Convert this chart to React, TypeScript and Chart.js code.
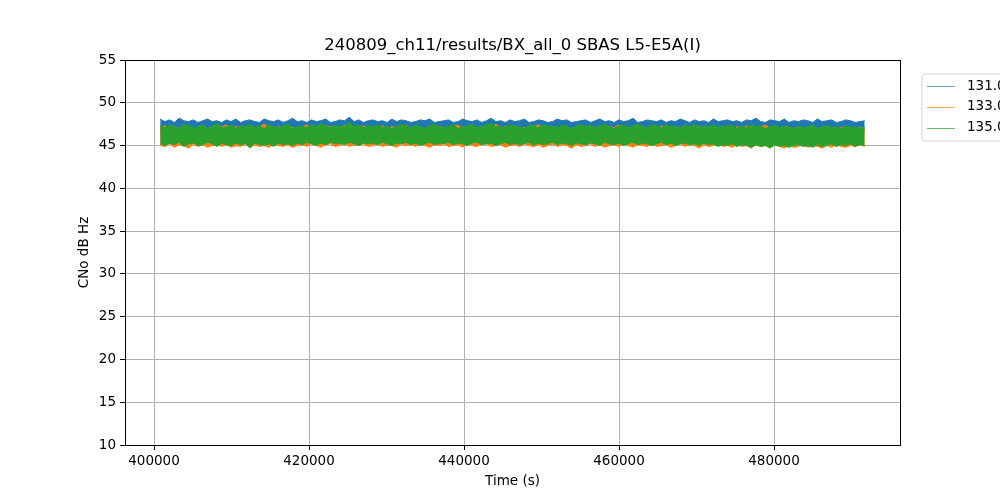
import React, { useEffect, useRef } from "react";
import { Chart, registerables } from "chart.js";

Chart.register(...registerables);

const TITLE = "240809_ch11/results/BX_all_0 SBAS L5-E5A(I)";
const X_LABEL = "Time (s)";
const Y_LABEL = "CNo dB Hz";
const SERIES_NAMES = ["131.0", "133.0", "135.0"];
const COLORS = ["#1f77b4", "#ff7f0e", "#2ca02c"];
const X_TICKS = [400000, 420000, 440000, 460000, 480000];
const Y_TICKS = [10, 15, 20, 25, 30, 35, 40, 45, 50, 55];
const X_MIN = 396258;
const X_MAX = 496258;
const T_START = 400800;
const T_END = 491700;

const S131_HI = [
  48.1,47.8,48.0,47.7,48.2,47.9,47.8,48.0,47.7,47.9,48.1,47.8,47.9,47.7,48.0,
  47.8,48.1,47.7,47.9,48.0,47.8,47.7,48.1,47.9,47.8,48.0,47.7,47.9,48.2,47.8,
  47.9,47.7,48.0,47.8,47.9,48.1,47.7,47.8,48.0,47.9,48.3,47.8,48.0,47.7,47.9,
  48.0,47.8,47.9,47.7,48.1,47.8,48.0,47.9,47.7,47.8,48.0,47.9,48.1,47.7,47.8,
  47.9,48.0,47.7,47.8,48.1,47.9,47.8,48.0,47.7,47.9,48.2,47.8,47.9,47.7,48.0,
  47.8,47.9,48.1,47.7,47.8,48.0,47.9,47.7,47.8,48.1,47.9,48.0,47.7,47.8,47.9,
  48.0,47.7,47.9,48.1,47.8,47.9,47.7,48.0,47.8,47.9,48.2,47.7,47.8,48.0,47.9,
  47.8,48.0,47.7,47.9,47.8,48.1,47.9,47.7,48.0,47.8,47.9,47.7,48.1,47.8,47.9,
  48.0,47.8,47.9,47.7,48.0,47.9,48.2,47.8,47.7,48.0,47.9,47.8,48.1,47.7,47.9,
  47.8,48.0,47.9,47.7,48.1,47.8,47.9,48.0,47.7,47.8,48.0,47.9,47.7,47.8,47.9,
];
const S131_LO = [
  46.6,46.4,46.7,46.5,46.8,46.4,46.6,46.5,46.7,46.4,46.6,46.8,46.5,46.4,46.7,
  46.5,46.7,46.4,46.6,46.8,46.5,46.4,46.6,46.7,46.5,46.8,46.4,46.6,46.5,46.7,
  46.4,46.6,46.8,46.5,46.7,46.4,46.6,46.5,46.8,46.6,46.4,46.7,46.5,46.6,46.4,
  46.7,46.5,46.6,46.8,46.4,46.6,46.5,46.7,46.4,46.8,46.6,46.5,46.7,46.4,46.6,
  46.5,46.8,46.4,46.6,46.7,46.5,46.4,46.6,46.8,46.5,46.7,46.4,46.6,46.5,46.7,
  46.6,46.4,46.7,46.5,46.6,46.8,46.4,46.5,46.7,46.6,46.4,46.8,46.5,46.6,46.7,
  46.4,46.7,46.5,46.6,46.8,46.4,46.6,46.7,46.5,46.4,46.6,46.8,46.5,46.7,46.4,
  46.6,46.5,46.8,46.4,46.7,46.6,46.5,46.4,46.7,46.6,46.8,46.5,46.4,46.6,46.7,
  46.5,46.7,46.4,46.6,46.5,46.8,46.6,46.4,46.7,46.5,46.6,46.4,46.8,46.5,46.6,
  46.7,46.4,46.6,46.5,46.8,46.4,46.7,46.6,46.5,46.4,46.6,46.7,46.5,46.4,46.6,
];
const S133_HI = [
  47.1,47.3,46.9,47.2,47.0,47.4,47.1,46.9,47.2,47.3,47.0,47.1,46.9,47.2,47.4,
  47.0,47.2,47.1,46.9,47.3,47.0,47.2,47.5,47.1,46.9,47.2,47.0,47.3,47.1,46.9,
  47.2,47.4,47.0,47.1,46.9,47.3,47.2,47.0,47.1,47.4,46.9,47.2,47.0,47.3,47.1,
  46.9,47.1,47.3,47.0,47.2,47.1,46.9,47.4,47.0,47.2,47.1,46.9,47.3,47.0,47.2,
  47.1,47.0,47.2,47.4,46.9,47.1,47.3,47.0,47.2,46.9,47.1,47.5,47.0,47.2,47.1,
  47.3,46.9,47.1,47.0,47.2,47.4,47.1,46.9,47.2,47.0,47.3,47.1,46.9,47.2,47.0,
  47.2,47.1,46.9,47.3,47.0,47.2,47.1,47.4,46.9,47.1,47.0,47.3,47.2,46.9,47.1,
  47.0,47.3,47.1,46.9,47.2,47.0,47.4,47.1,47.0,47.2,46.9,47.1,47.3,47.0,47.2,
  47.1,46.9,47.2,47.0,47.3,47.1,46.9,47.2,47.4,47.0,47.1,46.9,47.2,47.1,47.0,
  47.2,47.0,47.1,47.3,46.9,47.1,47.2,47.0,46.9,47.1,47.2,47.0,46.9,47.1,47.0,
];
const S133_LO = [
  45.0,44.9,45.2,44.8,45.1,45.0,44.7,45.2,44.9,45.1,44.8,45.0,45.2,44.9,45.1,
  44.8,45.0,44.9,45.2,44.7,45.1,44.9,45.0,44.8,45.2,45.0,44.9,45.1,44.8,45.0,
  45.1,44.9,45.2,45.0,44.8,45.1,45.2,44.9,45.0,45.3,44.9,45.1,45.0,45.2,44.9,
  45.0,45.2,44.9,45.1,45.0,44.8,45.2,45.0,45.1,44.9,45.2,45.0,44.8,45.1,45.0,
  45.2,44.9,45.0,45.1,44.8,45.2,45.0,44.9,45.1,45.2,44.9,45.0,45.1,44.8,45.0,
  45.1,44.9,45.2,45.0,44.9,45.1,44.8,45.0,45.2,44.9,45.1,45.0,44.7,45.1,44.9,
  45.0,45.2,44.9,45.1,44.8,45.0,45.1,44.9,45.2,45.0,44.8,45.1,45.0,44.9,45.2,
  44.9,45.0,45.1,44.8,45.0,45.2,44.9,45.1,45.0,44.7,45.1,44.9,45.0,45.2,44.9,
  45.0,44.8,45.1,44.9,45.0,44.7,45.1,44.9,45.0,44.8,45.1,44.9,44.7,45.0,44.8,
  44.9,45.1,44.8,45.0,44.9,44.7,45.0,44.8,45.1,44.9,44.8,45.0,44.9,45.1,44.9,
];
const S135_HI = [
  47.3,47.1,47.4,47.2,47.0,47.5,47.3,47.1,47.2,47.4,47.0,47.3,47.6,47.1,47.2,
  47.4,47.0,47.3,47.2,47.5,47.1,47.3,47.0,47.4,47.2,47.1,47.3,47.5,47.0,47.2,
  47.3,47.1,47.4,47.2,47.6,47.3,47.1,47.4,47.2,47.3,47.7,47.2,47.4,47.1,47.3,
  47.2,47.4,47.1,47.3,47.0,47.2,47.5,47.3,47.1,47.4,47.2,47.0,47.3,47.5,47.2,
  47.1,47.3,47.4,47.0,47.2,47.3,47.5,47.1,47.2,47.4,47.6,47.2,47.3,47.1,47.4,
  47.3,47.2,47.0,47.4,47.3,47.1,47.5,47.2,47.3,47.1,47.4,47.2,47.0,47.3,47.4,
  47.2,47.4,47.1,47.3,47.5,47.2,47.0,47.3,47.4,47.1,47.3,47.5,47.2,47.1,47.4,
  47.3,47.1,47.4,47.2,47.3,47.0,47.4,47.2,47.5,47.1,47.3,47.2,47.4,47.1,47.3,
  47.2,47.4,47.0,47.3,47.1,47.4,47.2,47.3,47.0,47.2,47.4,47.1,47.3,47.2,47.0,
  47.3,47.1,47.2,47.4,47.0,47.2,47.3,47.1,47.2,47.0,47.3,47.1,47.2,47.0,47.2,
];
const S135_LO = [
  45.2,45.0,45.3,45.1,45.4,44.9,45.2,45.3,45.0,45.1,45.4,45.2,44.9,45.3,45.1,
  45.0,45.3,45.1,45.2,44.8,45.3,45.1,45.0,45.2,44.9,45.3,45.1,45.2,45.0,45.3,
  45.1,45.4,45.2,45.0,45.3,45.1,45.4,45.2,45.3,45.1,45.4,45.2,45.0,45.3,45.2,
  45.3,45.1,45.4,45.2,45.0,45.3,45.2,45.4,45.1,45.3,45.0,45.2,45.4,45.1,45.3,
  45.2,45.4,45.1,45.3,45.2,45.0,45.3,45.4,45.1,45.2,45.3,45.0,45.2,45.4,45.1,
  45.3,45.1,45.2,45.4,45.0,45.3,45.1,45.2,45.4,45.1,45.3,45.2,45.0,45.3,45.2,
  45.1,45.3,45.2,45.0,45.4,45.2,45.1,45.3,45.0,45.2,45.4,45.1,45.3,45.2,45.0,
  45.2,45.4,45.1,45.3,45.0,45.2,45.3,45.1,45.2,45.0,45.3,45.1,45.2,44.9,45.1,
  45.0,45.2,44.9,45.1,45.0,44.8,45.1,44.9,45.0,44.7,45.1,44.9,45.0,44.8,45.0,
  45.1,44.9,45.0,44.8,45.1,44.9,45.0,45.2,44.9,45.1,45.0,45.2,44.9,45.1,45.0,
];

const SERIES_HI = [S131_HI, S133_HI, S135_HI];
const SERIES_LO = [S131_LO, S133_LO, S135_LO];
const FONT = "'DejaVu Sans', sans-serif";

function toPoints(vals: number[]) {
  const n = vals.length;
  return vals.map((v, i) => ({ x: T_START + (i * (T_END - T_START)) / (n - 1), y: v }));
}

const decorPlugin = {
  id: "decor",
  afterDraw(chart: any) {
    const { ctx, chartArea } = chart;
    const { left, right, top, bottom } = chartArea;
    ctx.save();
    ctx.strokeStyle = "#000";
    ctx.lineWidth = 1;
    ctx.strokeRect(Math.round(left) + 0.5, Math.round(top) + 0.5, Math.round(right - left), Math.round(bottom - top));
    ctx.fillStyle = "#000";
    ctx.textAlign = "center";
    ctx.textBaseline = "middle";
    ctx.font = `16.5px ${FONT}`;
    ctx.fillText(TITLE, (left + right) / 2, 46);
    ctx.font = `13.5px ${FONT}`;
    ctx.fillText(X_LABEL, (left + right) / 2, 481);
    ctx.save();
    ctx.translate(84, (top + bottom) / 2);
    ctx.rotate(-Math.PI / 2);
    ctx.fillText(Y_LABEL, 0, 0);
    ctx.restore();
    const lx = 922, ly = 74, lw = 120, lh = 67, r = 3;
    ctx.beginPath();
    ctx.moveTo(lx + r, ly);
    ctx.lineTo(lx + lw - r, ly);
    ctx.arcTo(lx + lw, ly, lx + lw, ly + r, r);
    ctx.lineTo(lx + lw, ly + lh - r);
    ctx.arcTo(lx + lw, ly + lh, lx + lw - r, ly + lh, r);
    ctx.lineTo(lx + r, ly + lh);
    ctx.arcTo(lx, ly + lh, lx, ly + lh - r, r);
    ctx.lineTo(lx, ly + r);
    ctx.arcTo(lx, ly, lx + r, ly, r);
    ctx.closePath();
    ctx.fillStyle = "rgba(255,255,255,0.8)";
    ctx.fill();
    ctx.strokeStyle = "#d6d6d6";
    ctx.lineWidth = 1;
    ctx.stroke();
    ctx.textAlign = "left";
    ctx.font = `13.5px ${FONT}`;
    SERIES_NAMES.forEach((name, i) => {
      const y = 86 + i * 20.8;
      ctx.globalAlpha = 0.7;
      ctx.strokeStyle = COLORS[i];
      ctx.lineWidth = 1;
      ctx.beginPath();
      ctx.moveTo(927, Math.round(y) + 0.5);
      ctx.lineTo(955, Math.round(y) + 0.5);
      ctx.stroke();
      ctx.globalAlpha = 1;
      ctx.fillStyle = "#000";
      ctx.fillText(name, 967, y);
    });
    ctx.restore();
  },
};

export default function App() {
  const ref = useRef<HTMLCanvasElement | null>(null);
  useEffect(() => {
    if (!ref.current) return;
    const datasets: any[] = [];
    SERIES_NAMES.forEach((name, i) => {
      datasets.push({
        label: name,
        data: toPoints(SERIES_HI[i]),
        borderColor: COLORS[i],
        backgroundColor: COLORS[i],
        borderWidth: 1,
        pointRadius: 0,
        tension: 0,
        fill: "+1",
        order: 3 - i,
      });
      datasets.push({
        label: name + " min",
        data: toPoints(SERIES_LO[i]),
        borderColor: COLORS[i],
        backgroundColor: COLORS[i],
        borderWidth: 1,
        pointRadius: 0,
        tension: 0,
        fill: false,
        order: 3 - i,
      });
    });
    const chart = new Chart(ref.current, {
      type: "line",
      data: { datasets },
      options: {
        animation: false,
        responsive: false,
        maintainAspectRatio: false,
        layout: { padding: { left: 0, top: 60, right: 100, bottom: 0 } },
        plugins: { legend: { display: false }, title: { display: false }, tooltip: { enabled: false } },
        scales: {
          x: {
            type: "linear",
            min: X_MIN,
            max: X_MAX,
            afterFit: (s: any) => { s.height = 55; },
            afterBuildTicks: (s: any) => { s.ticks = X_TICKS.map((v) => ({ value: v })); },
            grid: { color: "#b0b0b0", lineWidth: 1, tickLength: 5, tickColor: "#000", drawTicks: true },
            border: { display: true, color: "#000", width: 1 },
            ticks: {
              autoSkip: false,
              maxRotation: 0,
              padding: 3,
              color: "#000",
              font: { family: FONT, size: 13.5 },
              callback: (v: any) => String(v),
            },
          },
          y: {
            type: "linear",
            min: 10,
            max: 55,
            afterFit: (s: any) => { s.width = 125; },
            afterBuildTicks: (s: any) => { s.ticks = Y_TICKS.map((v) => ({ value: v })); },
            grid: { color: "#b0b0b0", lineWidth: 1, tickLength: 5, tickColor: "#000", drawTicks: true },
            border: { display: true, color: "#000", width: 1 },
            ticks: {
              autoSkip: false,
              padding: 4,
              color: "#000",
              font: { family: FONT, size: 13.5 },
              callback: (v: any) => String(v),
            },
          },
        },
      },
      plugins: [decorPlugin],
    });
    return () => chart.destroy();
  }, []);
  return (
    <div style={{ position: "absolute", left: 0, top: 0, width: 1000, height: 500, background: "#fff" }}>
      <canvas ref={ref} width={1000} height={500} style={{ width: 1000, height: 500 }} />
    </div>
  );
}
